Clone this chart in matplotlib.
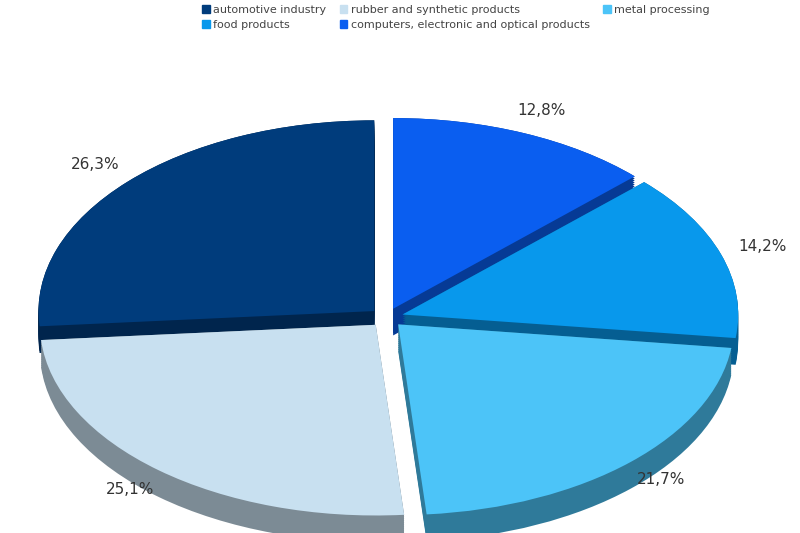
import matplotlib
matplotlib.use("Agg")
import matplotlib.pyplot as plt
import matplotlib.colors as mc
from matplotlib.patches import Patch

categories = ["computers, electronic and optical products", "food products", "metal processing",
              "rubber and synthetic products", "automotive industry"]
values = [12.8, 14.2, 21.7, 25.1, 26.3]
colors = ["#0a5ef0", "#0898ec", "#4cc4f8", "#c8e0f0", "#003c7c"]
legend_order = [4, 1, 3, 0, 2]

fig = plt.figure(figsize=(8, 5.33), dpi=100)
ax = fig.add_axes([0.03, 0.0, 0.94, 0.83])
explode = [0.05] * 5
depth = 0.14
n = 14
for i in range(n):
    off = -depth * (1 - i / (n - 1))
    shade = [tuple(c * 0.62 for c in mc.to_rgb(col)) for col in colors]
    ax.pie(values, colors=shade, explode=explode, startangle=90, counterclock=False,
           center=(0, off), frame=True, wedgeprops=dict(linewidth=0))
wedges, texts, autotexts = ax.pie(values, colors=colors, explode=explode, startangle=90,
                                  counterclock=False, frame=True,
                                  autopct=lambda p: f"{p:.1f}%".replace(".", ","),
                                  pctdistance=1.13, wedgeprops=dict(linewidth=0),
                                  textprops=dict(fontsize=11, color="#333333"))
ax.set_aspect("auto")
ax.set_xlim(-1.08, 1.16)
ax.set_ylim(-1.13, 1.19)
ax.axis("off")

handles = [Patch(color=colors[i], label=categories[i]) for i in legend_order]
fig.legend(handles=handles, loc="upper center", bbox_to_anchor=(0.57, 1.01), ncol=3,
           frameon=False, fontsize=8, handlelength=0.7, handleheight=0.7,
           columnspacing=1.2, handletextpad=0.3, labelcolor="#444444")
fig.savefig("out.png", dpi=100)
